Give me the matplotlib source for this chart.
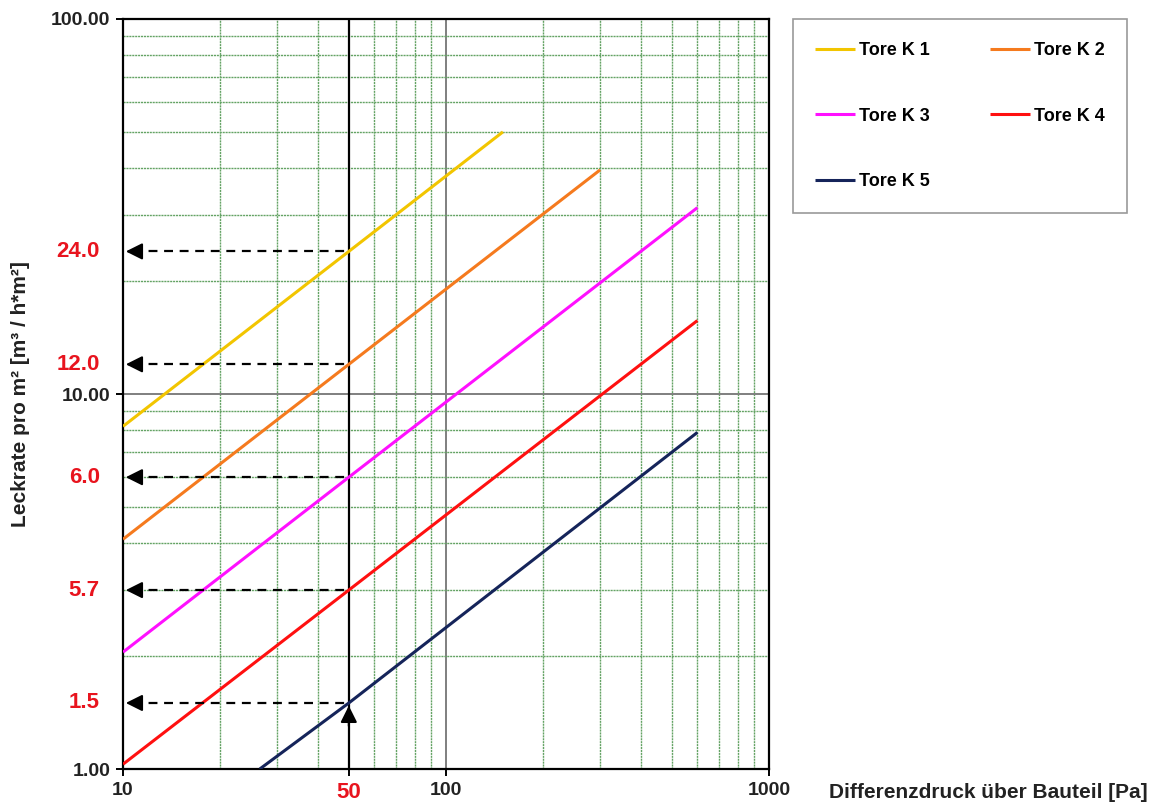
import matplotlib
matplotlib.use("Agg")
import matplotlib.pyplot as plt
from matplotlib.ticker import LogLocator, NullFormatter, FixedLocator

plt.rcParams['font.family'] = ['Liberation Sans', 'DejaVu Sans']
plt.rcParams['font.weight'] = 'bold'

# series: pressure [Pa] and leak rate [m3/h*m2]
labels = ["Tore K 1", "Tore K 2", "Tore K 3", "Tore K 4", "Tore K 5"]
colors = ["#F2C500", "#F57A1E", "#FF10FF", "#FF1010", "#15245A"]
press = [
    [10, 50, 150],
    [10, 50, 300],
    [10, 50, 600],
    [10, 50, 600],
    [26.5, 50, 600],
]
rate = [
    [8.2, 24.0, 50.0],
    [4.1, 12.0, 39.6],
    [2.05, 6.0, 31.4],
    [1.03, 3.0, 15.7],
    [1.0, 1.5, 7.9],
]

# reference markers at 50 Pa
ref_p = 50
ref_y = [24.0, 12.0, 6.0, 3.0, 1.5]
ref_txt = ["24.0", "12.0", "6.0", "5.7", "1.5"]

fig = plt.figure(figsize=(11.64, 8.05), dpi=100)
ax = fig.add_axes([0.1057, 0.0447, 0.555, 0.9317])
ax.set_xscale("log")
ax.set_yscale("log")
ax.set_xlim(10, 1000)
ax.set_ylim(1, 100)

# grid
ax.xaxis.set_minor_locator(LogLocator(base=10, subs=range(2, 10)))
ax.yaxis.set_minor_locator(LogLocator(base=10, subs=range(2, 10)))
ax.xaxis.set_minor_formatter(NullFormatter())
ax.yaxis.set_minor_formatter(NullFormatter())
ax.grid(which="minor", color="#64a364", lw=1.0, linestyle=(0, (1.5, 0.6)))
ax.grid(which="major", color="#7f7f7f", lw=1.4)
ax.tick_params(which="minor", length=0)
ax.set_axisbelow(True)

for s in ax.spines.values():
    s.set_linewidth(1.6)
    s.set_color("black")

# vertical line at 50 Pa
ax.axvline(ref_p, color="black", lw=1.6, zorder=3)

lines = []
for p, r, c, l in zip(press, rate, colors, labels):
    ln, = ax.plot(p, r, color=c, lw=2.2, label=l, zorder=4, solid_capstyle="butt")
    lines.append(ln)

for y in ref_y:
    ax.plot([10.7, ref_p], [y, y], color="black", lw=1.6, linestyle=(0, (4, 3)), zorder=5)
    ax.annotate("", xy=(10, y), xytext=(11.4, y),
                arrowprops=dict(arrowstyle="-|>", color="black", lw=1.5, mutation_scale=25),
                zorder=6)

ax.annotate("", xy=(ref_p, 1.5), xytext=(ref_p, 1.28),
            arrowprops=dict(arrowstyle="-|>", color="black", lw=1.5, mutation_scale=25),
            zorder=6)

# ticks
ax.xaxis.set_major_locator(FixedLocator([10, 50, 100, 1000]))
ax.set_xticklabels(["10", "50", "100", "1000"])
ax.yaxis.set_major_locator(FixedLocator([1, 10, 100]))
ax.set_yticklabels(["1.00", "10.00", "100.00"])
ax.tick_params(which="major", length=5, width=1.4, labelsize=14, pad=4)
for t in ax.get_xticklabels():
    t.set_fontweight("bold")
    if t.get_text() == "50":
        t.set_color("#E8141E")
        t.set_fontsize(16)
    else:
        t.set_color("#222222")
for t in ax.get_yticklabels():
    t.set_fontweight("bold")
    t.set_color("#222222")

for y, s in zip(ref_y, ref_txt):
    ax.text(-0.036, y, s, transform=ax.get_yaxis_transform(), ha="right", va="center",
            color="#E8141E", fontsize=16, fontweight="bold")

fig.text(0.018, 0.51, "Leckrate pro m² [m³ / h*m²]", rotation=90, ha="center", va="center",
         fontsize=15, fontweight="bold", color="#222222")
fig.text(0.712, 0.015, "Differenzdruck über Bauteil [Pa]", ha="left", va="center",
         fontsize=15, fontweight="bold", color="#222222")

# legend filled row by row: K1 K2 / K3 K4 / K5
order = [0, 2, 4, 1, 3]
leg = fig.legend([lines[i] for i in order], [labels[i] for i in order],
                 loc="upper left", bbox_to_anchor=(0.681, 0.976), ncol=2,
                 frameon=True, fancybox=False, edgecolor="#808080",
                 prop={"weight": "bold", "size": 13}, handlelength=2.2, handletextpad=0.25,
                 labelspacing=2.7, columnspacing=3.3, borderpad=1.25, borderaxespad=0)
leg.get_frame().set_linewidth(1.2)

fig.savefig("out.png", dpi=100)
